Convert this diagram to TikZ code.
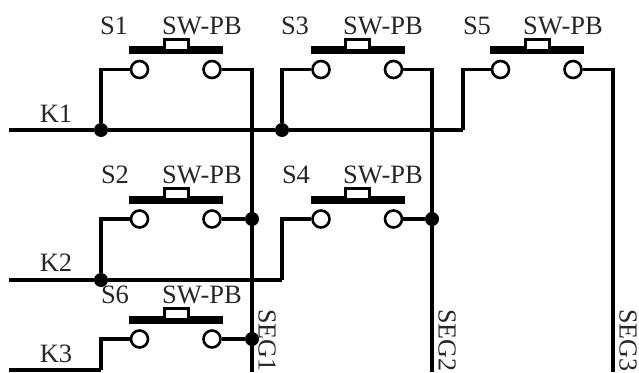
\documentclass[tikz,border=0pt]{standalone}
\usepackage{fontspec}
\setmainfont{Liberation Serif}
\begin{document}
\begin{tikzpicture}[x=1pt,y=-1pt,
						every node/.style={font=\fontsize{26.5}{26.5}\selectfont,text=black!85}]
						\tikzstyle{wire}=[line width=3.6pt,line join=miter];
						\tikzstyle{pad}=[circle,draw,line width=2.6pt,fill=white,inner sep=0pt,minimum size=17pt];
						\tikzstyle{bar}=[rectangle,fill=black,inner sep=0pt,minimum width=94pt,minimum height=8pt];
						\tikzstyle{plunger}=[rectangle,draw,line width=3pt,fill=white,inner sep=0pt,minimum width=24pt,minimum height=11pt];
						\tikzstyle{dot}=[circle,fill=black,inner sep=0pt,minimum size=14pt];
						\tikzstyle{seglabel}=[rotate=-90,anchor=north west,inner sep=0pt,font=\fontsize{26}{26}\selectfont];
						\useasboundingbox (0,0) rectangle (639,372);
						\coordinate(k1) at (9,130);
						\coordinate(k2) at (9,280);
						\coordinate(k3) at (9,370);
						\coordinate(t2) at (282,280);
						\coordinate(t3) at (101,370);
						\coordinate(t5) at (463,130);
						\coordinate(seg1) at (252,372);
						\coordinate(seg2) at (432,372);
						\coordinate(seg3) at (613,372);
						\node[dot](j1) at (101,130) {};
						\node[dot](j3) at (282,130) {};
						\node[dot](j2) at (101,280) {};
						\node[dot](d2) at (252,219) {};
						\node[dot](d4) at (432,219) {};
						\node[dot](d6) at (252,339) {};
						% wires first, the pads sit on top
						\draw[wire] (k1) -- (j1) -- (j3) -- (t5);
						\draw[wire] (k2) -- (j2) -- (t2);
						\draw[wire] (k3) -- (t3);
						\foreach \n/\x/\y/\l/\m in {1/139.5/69.5/114/202,2/139.5/219/115/202,3/321/69.5/295/383,4/321/219/296/383,5/500.5/69.5/477/563,6/139.5/339/115/202}{
							\node[pad](s\n a) at (\x,\y) {};
							\node[pad](s\n b) at (\x+72.5,\y) {};
							\node[bar](b\n) at (\x+36.5,\y-19.5) {};
							\node[plunger](c\n) at (\x+36.5,\y-25) {};
							\node(l\n) at (\l,\y-44) {S\n};
							\node(v\n) at (\m,\y-44) {SW-PB};
						}
						\draw[wire] (j1) |- (s1a);
						\draw[wire] (j3) |- (s3a);
						\draw[wire] (t5) |- (s5a);
						\draw[wire] (j2) |- (s2a);
						\draw[wire] (t2) |- (s4a);
						\draw[wire] (t3) |- (s6a);
						\draw[wire] (s1b) -| (seg1);
						\draw[wire] (s3b) -| (seg2);
						\draw[wire] (s5b) -| (seg3);
						\draw[wire] (s2b) -- (d2);
						\draw[wire] (s4b) -- (d4);
						\draw[wire] (s6b) -- (d6);
						\node(K1) at (56,114) {K1};
						\node(K2) at (56,263) {K2};
						\node(K3) at (56,354) {K3};
						\node[seglabel](SEG1) at (276,309) {SEG1};
						\node[seglabel](SEG2) at (456,309) {SEG2};
						\node[seglabel](SEG3) at (637,309) {SEG3};
					\end{tikzpicture}
\end{document}
